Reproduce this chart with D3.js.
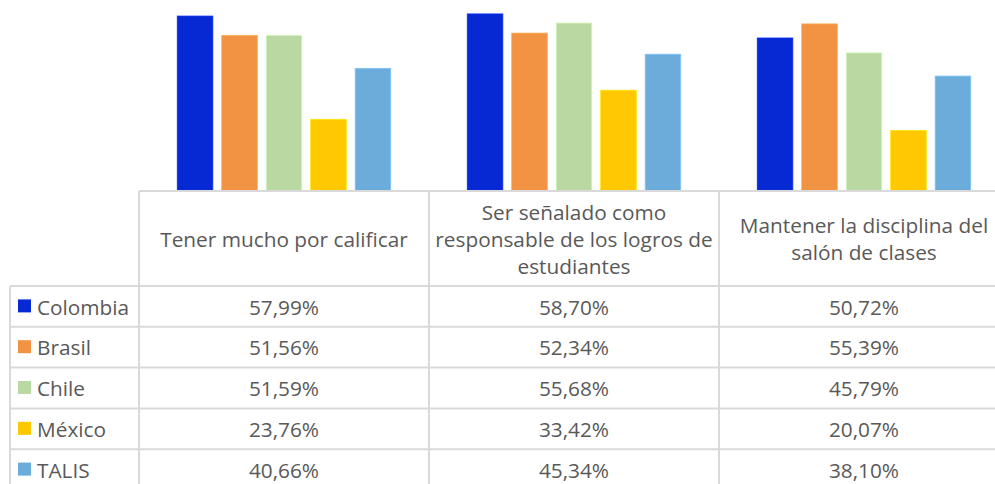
<!DOCTYPE html>
<html><head><meta charset="utf-8">
<script src="https://cdn.jsdelivr.net/npm/d3@7"></script>
<style>html,body{margin:0;padding:0;background:#fff;}svg{display:block;}</style>
</head><body>
<svg id="c" width="995" height="484"></svg>
<script>
const categories = [["Tener mucho por calificar"], ["Ser señalado como", "responsable de los logros de", "estudiantes"], ["Mantener la disciplina del", "salón de clases"]];
const series = ["Colombia", "Brasil", "Chile", "México", "TALIS"];
const colombia = [57.99, 58.70, 50.72];
const brasil = [51.56, 52.34, 55.39];
const chile = [51.59, 55.68, 45.79];
const mexico = [23.76, 33.42, 20.07];
const talis = [40.66, 45.34, 38.10];
const colors = ["#0729D3", "#F29343", "#B9D8A2", "#FFC800", "#6BACDB"];

const values = [colombia, brasil, chile, mexico, talis];
const fmt = v => v.toFixed(2).replace(".", ",") + "%";

const svg = d3.select("#c");
const font = "'Open Sans', sans-serif";
const fs = 20.8;
const txt = "#595959";
const grid = "#d9d9d9";

const x = d3.scaleBand().domain(d3.range(categories.length)).range([139, 1009]);
const xi = d3.scaleBand().domain(series).range([0, x.bandwidth()]).paddingInner(0.2).paddingOuter(0.86);
const y = d3.scaleLinear().domain([0, 60]).range([191, 10]);

// bars
series.forEach((s, si) => {
  svg.append("g").selectAll("rect").data(values[si]).join("rect")
    .attr("x", (d, i) => x(i) + xi(s))
    .attr("width", xi.bandwidth())
    .attr("y", d => y(d))
    .attr("height", d => y(0) - y(d))
    .attr("fill", colors[si])
    .attr("stroke", d3.color(colors[si]).brighter(0.4))
    .attr("stroke-width", 0.8);
});

// table geometry
const headerTop = 191, headerBottom = 286, rowH = 40.8;
const rowY = d3.scaleLinear().domain([0, 1]).range([headerBottom, headerBottom + rowH]);
const legendLeft = 10, legendRight = 139;

const g = svg.append("g").attr("stroke", grid).attr("stroke-width", 2).attr("fill", "none");
g.append("line").attr("x1", legendRight).attr("x2", 995).attr("y1", headerTop).attr("y2", headerTop);
d3.range(series.length + 1).forEach(r => {
  g.append("line").attr("x1", legendLeft).attr("x2", 995).attr("y1", rowY(r)).attr("y2", rowY(r));
});
g.append("line").attr("x1", legendLeft).attr("x2", legendLeft).attr("y1", headerBottom).attr("y2", 484);
d3.range(categories.length).forEach(i => {
  g.append("line").attr("x1", x(i)).attr("x2", x(i)).attr("y1", headerTop).attr("y2", 484);
});

// header text
const lh = 27;
categories.forEach((lines, i) => {
  const cx = x(i) + x.bandwidth() / 2;
  const cy = (headerTop + headerBottom) / 2 + 1;
  lines.forEach((t, k) => {
    svg.append("text").attr("x", cx).attr("y", cy + (k - (lines.length - 1) / 2) * lh)
      .attr("dy", "0.35em").attr("text-anchor", "middle")
      .attr("font-family", font).attr("font-size", fs).attr("fill", txt).text(t);
  });
});

// rows
series.forEach((s, si) => {
  const cy = rowY(si + 0.5);
  svg.append("rect").attr("x", 18).attr("y", cy - 7).attr("width", 13).attr("height", 13).attr("fill", colors[si]);
  svg.append("text").attr("x", 37).attr("y", cy + 1).attr("dy", "0.35em")
    .attr("font-family", font).attr("font-size", fs).attr("fill", txt).text(s);
  values[si].forEach((v, i) => {
    svg.append("text").attr("x", x(i) + x.bandwidth() / 2).attr("y", cy + 1).attr("dy", "0.35em")
      .attr("text-anchor", "middle").attr("font-family", font).attr("font-size", fs)
      .attr("fill", txt).text(fmt(v));
  });
});
</script>
</body></html>
